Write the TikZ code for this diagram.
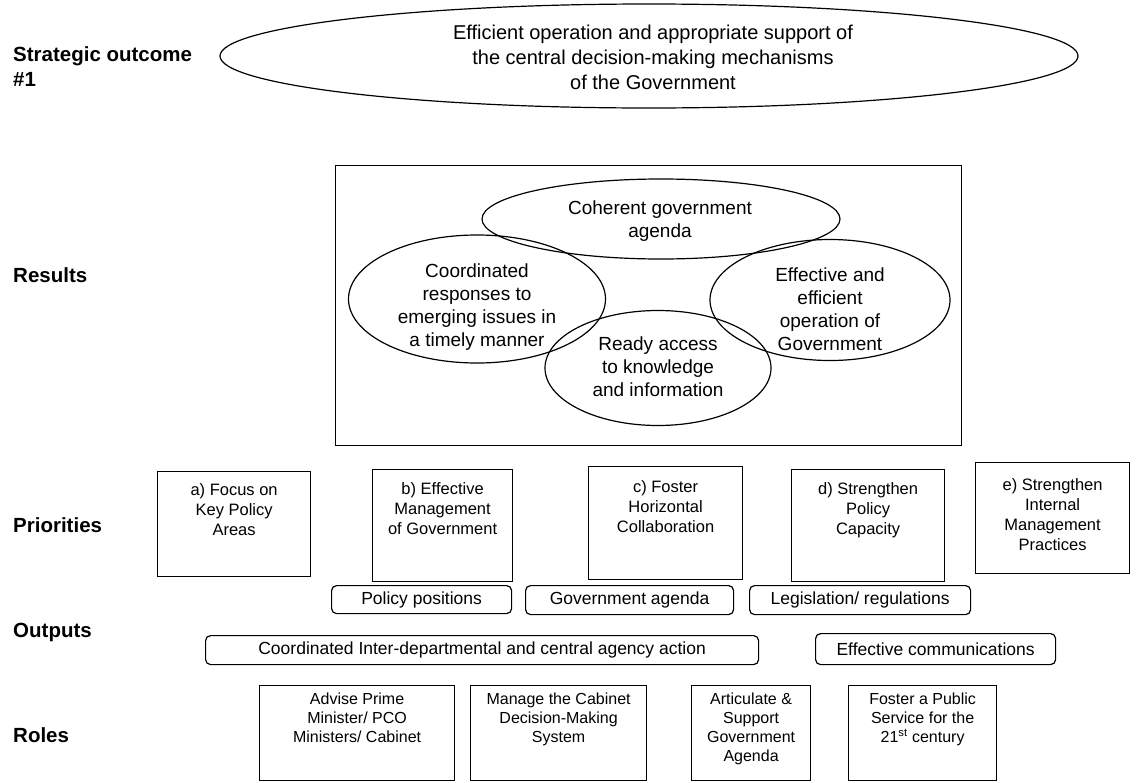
\documentclass[tikz,border=0pt]{standalone}
\usepackage{fontspec}
\setmainfont{Liberation Sans}
\usetikzlibrary{shapes.geometric}

\tikzset{
  ln/.style={line width=1.2pt, draw=black},
  rowlabel/.style={anchor=west, align=left, inner sep=0pt, font=\fontsize{20.5}{25}\selectfont\bfseries},
  oval/.style={ellipse, ln, inner sep=0pt},
  ovaltext/.style={align=center, font=\fontsize{19}{23}\selectfont},
  prio/.style={rectangle, ln, inner sep=0pt, anchor=north west},
  priotext/.style={anchor=north, align=center, inner sep=0pt, font=\fontsize{16.5}{20}\selectfont},
  outbox/.style={rectangle, rounded corners=5pt, ln, inner sep=0pt, anchor=north west,
    font=\fontsize{17.5}{20}\selectfont},
  roletext/.style={anchor=north, align=center, inner sep=0pt, font=\fontsize{16}{19}\selectfont},
}

\begin{document}
\begin{tikzpicture}[x=1pt, y=-1pt]
\useasboundingbox (0,0) rectangle (1138,782);

% row labels
\node[rowlabel] (lso) at (13,67) {Strategic outcome\\\#1};
\node[rowlabel] (lres) at (13,275) {Results};
\node[rowlabel] (lpri) at (13,525) {Priorities};
\node[rowlabel] (lout) at (13,632) {Outputs};
\node[rowlabel] (lrol) at (13,735) {Roles};

% strategic outcome
\node[oval, minimum width=858pt, minimum height=104pt] (so) at (649,56) {};
\node[ovaltext, font=\fontsize{20}{25}\selectfont] (sot) at (653,57)
  {Efficient operation and appropriate support of\\the central decision-making mechanisms\\of the Government};

% results frame and overlapping ellipses
\node[rectangle, ln, anchor=north west, minimum width=626pt, minimum height=280pt, inner sep=0pt] (res) at (335,165) {};
\node[oval, minimum width=358pt, minimum height=80pt] (r1) at (661,219) {};
\node[oval, minimum width=257pt, minimum height=128pt] (r2) at (477,299) {};
\node[oval, minimum width=240pt, minimum height=121pt] (r3) at (830,300) {};
\node[oval, minimum width=226pt, minimum height=115pt] (r4) at (658,368) {};
\node[ovaltext] (r1t) at (660,221) {Coherent government\\agenda};
\node[ovaltext] (r2t) at (477,307) {Coordinated\\responses to\\emerging issues in\\a timely manner};
\node[ovaltext] (r3t) at (830,309) {Effective and\\efficient\\operation of\\Government};
\node[ovaltext] (r4t) at (658,367) {Ready access\\to knowledge\\and information};

% priorities
\node[prio, minimum width=153pt, minimum height=105pt] (pa) at (157,471) {};
\node[prio, minimum width=140pt, minimum height=112pt] (pb) at (372,469) {};
\node[prio, minimum width=154pt, minimum height=113pt] (pc) at (588,466) {};
\node[prio, minimum width=153pt, minimum height=112pt] (pd) at (791,469) {};
\node[prio, minimum width=154pt, minimum height=111pt] (pe) at (975,462) {};
\node[priotext] (pat) at ([yshift=-12pt]pa.north) {a) Focus on\\Key Policy\\Areas};
\node[priotext] (pbt) at ([yshift=-13pt]pb.north) {b) Effective\\Management\\of Government};
\node[priotext] (pct) at ([yshift=-14pt]pc.north) {c) Foster\\Horizontal\\Collaboration};
\node[priotext] (pdt) at ([yshift=-13pt]pd.north) {d) Strengthen\\Policy\\Capacity};
\node[priotext] (pet) at ([yshift=-16pt]pe.north) {e) Strengthen\\Internal\\Management\\Practices};

% outputs
\node[outbox, minimum width=180pt, minimum height=28pt] (o1) at (331,585) {Policy positions};
\node[outbox, minimum width=208pt, minimum height=29pt] (o2) at (525,585) {Government agenda};
\node[outbox, minimum width=221pt, minimum height=29pt] (o3) at (749,585) {Legislation/ regulations};
\node[outbox, minimum width=553pt, minimum height=29pt] (o4) at (205,635) {Coordinated Inter-departmental and central agency action};
\node[outbox, minimum width=240pt, minimum height=31pt] (o5) at (815,633) {Effective communications};

% roles
\node[prio, minimum width=195pt, minimum height=95pt] (ra) at (259,685) {};
\node[prio, minimum width=176pt, minimum height=95pt] (rb) at (470,685) {};
\node[prio, minimum width=119pt, minimum height=95pt] (rc) at (691,685) {};
\node[prio, minimum width=148pt, minimum height=95pt] (rd) at (848,685) {};
\node[roletext] (rat) at ([yshift=-8pt]ra.north) {Advise Prime\\Minister/ PCO\\Ministers/ Cabinet};
\node[roletext] (rbt) at ([yshift=-8pt]rb.north) {Manage the Cabinet\\Decision-Making\\System};
\node[roletext] (rct) at ([yshift=-8pt]rc.north) {Articulate \&\\Support\\Government\\Agenda};
\node[roletext] (rdt) at ([yshift=-8pt]rd.north) {Foster a Public\\Service for the\\21\textsuperscript{st} century};
\end{tikzpicture}
\end{document}
